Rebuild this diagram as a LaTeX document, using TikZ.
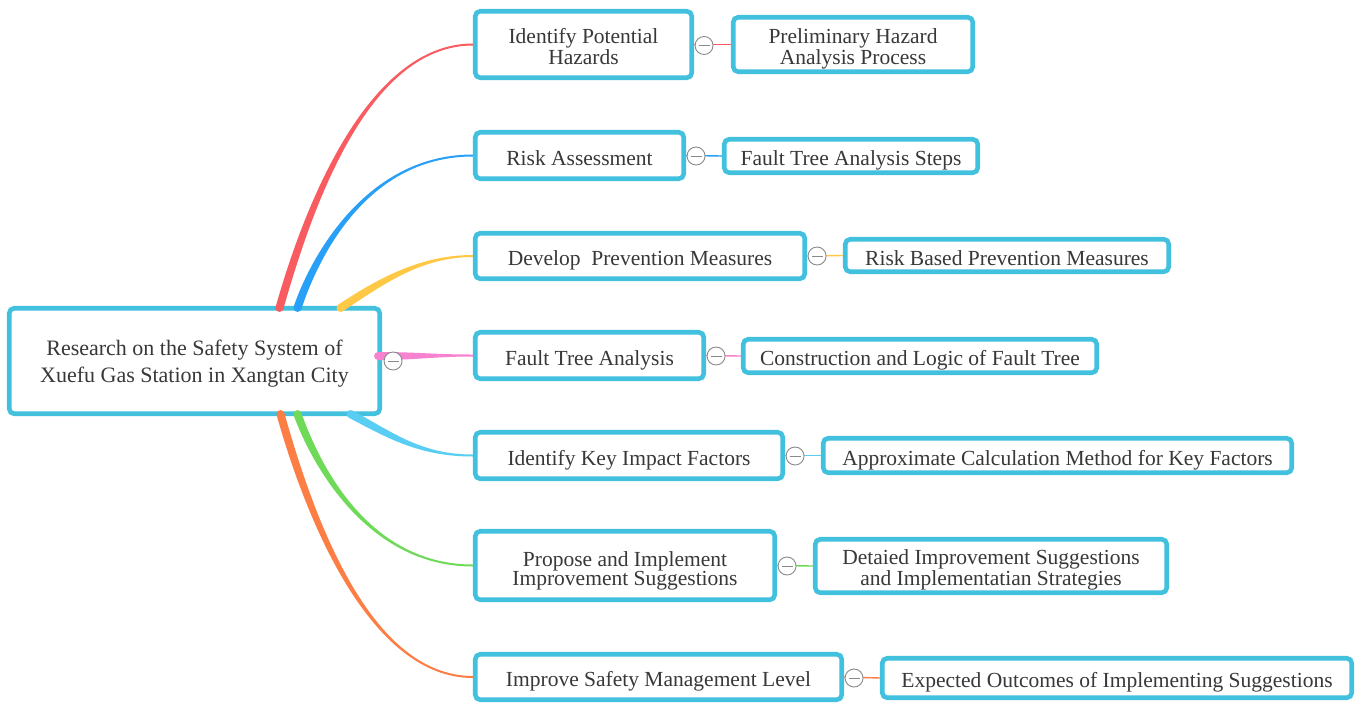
\documentclass[tikz,border=0pt]{standalone}
\usepackage{fontspec}
\setmainfont{Liberation Serif}
\usetikzlibrary{calc}
\definecolor{boxc}{HTML}{41C1DE}
\definecolor{txtc}{HTML}{383838}
\definecolor{cred}{HTML}{F95C60}
\definecolor{cblue}{HTML}{28A0F8}
\definecolor{cyel}{HTML}{FFC845}
\definecolor{cpink}{HTML}{F782D0}
\definecolor{clblue}{HTML}{5ACEF2}
\definecolor{cgreen}{HTML}{6FD958}
\definecolor{corange}{HTML}{FC7E45}
\definecolor{circc}{HTML}{8A8A8A}
\newcommand\mmbranch[5]{%
  \coordinate (tL0) at ($(#2)!4pt!90:(#3)$);
  \coordinate (tR0) at ($(#2)!4pt!-90:(#3)$);
  \coordinate (tL1) at ($(#5)!1pt!-90:(#4)$);
  \coordinate (tR1) at ($(#5)!1pt!90:(#4)$);
  \fill[#1] (tL0) .. controls ($(#3)+(tL0)-(#2)$) and ($(#4)+(tL1)-(#5)$) .. (tL1)
    -- (tR1) .. controls ($(#4)+(tR1)-(#5)$) and ($(#3)+(tR0)-(#2)$) .. (tR0) -- cycle;
  \fill[#1] (#2) circle (4);
}
\newcommand\mmtop{\rule{0pt}{24pt}}
\newcommand\mmtoptwo{\rule{0pt}{44pt}}
\newcommand\mmroottop{\rule{0pt}{47pt}}
\newcommand\mmbot{\rule[-5pt]{0pt}{0pt}}
\tikzset{
  mmbox/.style={draw=boxc, line width=4.6pt, rounded corners=5pt, fill=white, text=txtc,
    align=center, inner sep=0pt, font=\fontsize{21.5}{19}\selectfont,
    execute at begin node=\mmtop, execute at end node=\mmbot},
  mmtwo/.style={mmbox, execute at begin node=\mmtoptwo},
  mmroot/.style={mmbox, font=\fontsize{22}{27}\selectfont,
    execute at begin node=\mmroottop},
  mmcirc/.style={circle, draw=circc, line width=0.9pt, fill=white, minimum size=18pt, inner sep=0pt,
    path picture={\draw[circc, line width=0.9pt] ($(path picture bounding box.center)+(-5.5,0)$) -- ($(path picture bounding box.center)+(5.5,0)$);}},
  mmlink/.style={line width=1.4pt}
}
\begin{document}
\begin{tikzpicture}[x=1pt,y=-1pt]
\useasboundingbox[fill=white] (0,0) rectangle (1363,710);
% root
\node[mmroot, minimum width=370.5pt, minimum height=105.5pt] (r) at (194.5,361)
  {Research on the Safety System of\\Xuefu Gas Station in Xangtan City};
% level 1
\node[mmtwo, minimum width=216.5pt, minimum height=66.5pt] (a1) at (583.5,44.5) {Identify Potential\\Hazards};
\node[mmbox, minimum width=208.5pt, minimum height=46.5pt] (a2) at (579.5,155.5) {Risk Assessment};
\node[mmbox, minimum width=329.5pt, minimum height=45.5pt] (a3) at (640,256) {Develop\ \ Prevention Measures};
\node[mmbox, minimum width=228.5pt, minimum height=46.5pt] (a4) at (589.5,355.5) {Fault Tree Analysis};
\node[mmbox, minimum width=307.5pt, minimum height=46.5pt] (a5) at (629,455.5) {Identify Key Impact Factors};
\node[mmtwo, minimum width=299.5pt, minimum height=68.5pt] (a6) at (625,565.5) {Propose and Implement\\Improvement Suggestions};
\node[mmbox, minimum width=366.5pt, minimum height=45.5pt] (a7) at (658.5,677) {Improve Safety Management Level};
% level 2
\node[mmtwo, minimum width=239.5pt, minimum height=54.5pt] (b1) at (853,44.5) {Preliminary Hazard\\Analysis Process};
\node[mmbox, minimum width=253.5pt, minimum height=33.5pt] (b2) at (851,156) {Fault Tree Analysis Steps};
\node[mmbox, minimum width=323.5pt, minimum height=32.5pt] (b3) at (1007,255.5) {Risk Based Prevention Measures};
\node[mmbox, minimum width=353.5pt, minimum height=33.5pt] (b4) at (920,356) {Construction and Logic of Fault Tree};
\node[mmbox, minimum width=468.5pt, minimum height=34.5pt] (b5) at (1057.5,455.5) {Approximate Calculation Method for Key Factors};
\node[mmtwo, minimum width=351.5pt, minimum height=53.5pt] (b6) at (991,566) {Detaied Improvement Suggestions\\and Implementatian Strategies};
\node[mmbox, minimum width=469.5pt, minimum height=39.5pt] (b7) at (1117,678) {Expected Outcomes of Implementing Suggestions};
% level1 -> level2 links
\draw[mmlink, cred] (a1.east) -- (b1.west);
\draw[mmlink, cblue] (a2.east) -- (b2.west);
\draw[mmlink, cyel] (a3.east) -- (b3.west);
\draw[mmlink, cpink] (a4.east) -- (b4.west);
\draw[mmlink, clblue] (a5.east) -- (b5.west);
\draw[mmlink, cgreen] (a6.east) -- (b6.west);
\draw[mmlink, corange] (a7.east) -- (b7.west);
% branch starts on root
\coordinate (s1) at ($(r.north)+(85,2)$);
\coordinate (s2) at ($(r.north)+(103,2)$);
\coordinate (s3) at ($(r.north)+(146,2)$);
\coordinate (s4) at ($(r.east)+(-4,-5)$);
\coordinate (s5) at ($(r.south)+(156,-2)$);
\coordinate (s6) at ($(r.south)+(103,-2)$);
\coordinate (s7) at ($(r.south)+(86,-2)$);
% control points
\coordinate (k1a) at (310,200); \coordinate (k1b) at (370,44.5);
\coordinate (k2a) at (310,270); \coordinate (k2b) at (360,155.5);
\coordinate (k3a) at (380,282); \coordinate (k3b) at (420,256);
\coordinate (k4a) at ($(s4)+(40,0)$); \coordinate (k4b) at ($(a4.west)+(-40,0)$);
\coordinate (k5a) at (390,435); \coordinate (k5b) at (420,455.5);
\coordinate (k6a) at (310,449); \coordinate (k6b) at (360,565.5);
\coordinate (k7a) at (310,519); \coordinate (k7b) at (370,677);
\mmbranch{cred}{s1}{k1a}{k1b}{a1.west}
\mmbranch{cblue}{s2}{k2a}{k2b}{a2.west}
\mmbranch{cyel}{s3}{k3a}{k3b}{a3.west}
\mmbranch{cpink}{s4}{k4a}{k4b}{a4.west}
\mmbranch{clblue}{s5}{k5a}{k5b}{a5.west}
\mmbranch{cgreen}{s6}{k6a}{k6b}{a6.west}
\mmbranch{corange}{s7}{k7a}{k7b}{a7.west}
% collapse circles
\node[mmcirc] (c0) at ($(r.east)+(11,0)$) {};
\node[mmcirc] (c1) at ($(a1.east)+(10,1)$) {};
\node[mmcirc] (c2) at ($(a2.east)+(10,0.5)$) {};
\node[mmcirc] (c3) at ($(a3.east)+(10,0)$) {};
\node[mmcirc] (c4) at ($(a4.east)+(10,0.5)$) {};
\node[mmcirc] (c5) at ($(a5.east)+(10,0.5)$) {};
\node[mmcirc] (c6) at ($(a6.east)+(10,0.5)$) {};
\node[mmcirc] (c7) at ($(a7.east)+(10,1)$) {};
\end{tikzpicture}
\end{document}
